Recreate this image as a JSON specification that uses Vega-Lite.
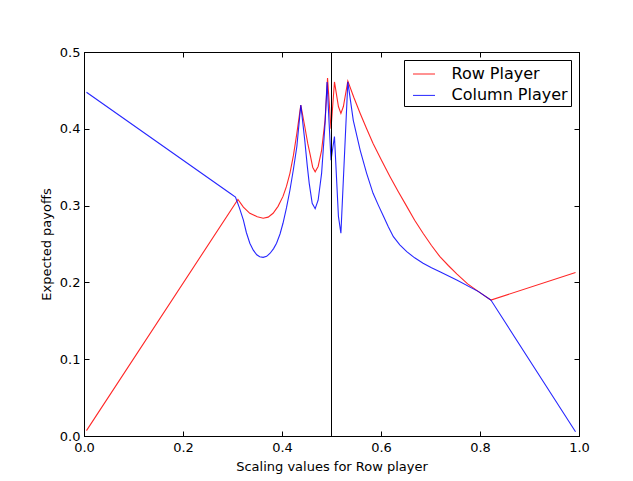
{
  "$schema": "https://vega.github.io/schema/vega-lite/v6.json",
  "width": 495,
  "height": 384,
  "autosize": {"type": "none"},
  "padding": {"left": 84, "top": 52, "right": 54, "bottom": 45},
  "background": "white",
  "config": {
    "font": "DejaVu Sans",
    "view": {"stroke": "black", "strokeWidth": 1},
    "axis": {
      "labelFont": "DejaVu Sans", "labelFontSize": 13, "labelColor": "black", "labelFlush": false,
      "titleFont": "DejaVu Sans", "titleFontSize": 13, "titleColor": "black", "titleFontWeight": "normal",
      "domainColor": "black", "tickColor": "black", "tickSize": -5, "grid": false
    },
    "legend": {
      "orient": "top-right", "offset": 8, "strokeColor": "black", "fillColor": "white",
      "padding": 2.5, "cornerRadius": 0, "symbolType": "stroke", "symbolSize": 484,
      "symbolStrokeWidth": 1, "symbolOffset": 6, "labelFontSize": 16, "labelFont": "DejaVu Sans",
      "labelColor": "black", "labelOffset": 16, "rowPadding": 1.4
    }
  },
  "datasets": {
    "curves": [
      {"series": "Row Player", "x": 0.005, "y": 0.007},
      {"series": "Row Player", "x": 0.311, "y": 0.308},
      {"series": "Row Player", "x": 0.322, "y": 0.298},
      {"series": "Row Player", "x": 0.335, "y": 0.290},
      {"series": "Row Player", "x": 0.350, "y": 0.2855},
      {"series": "Row Player", "x": 0.362, "y": 0.2835},
      {"series": "Row Player", "x": 0.372, "y": 0.285},
      {"series": "Row Player", "x": 0.382, "y": 0.290},
      {"series": "Row Player", "x": 0.392, "y": 0.299},
      {"series": "Row Player", "x": 0.402, "y": 0.312},
      {"series": "Row Player", "x": 0.409, "y": 0.325},
      {"series": "Row Player", "x": 0.416, "y": 0.342},
      {"series": "Row Player", "x": 0.423, "y": 0.365},
      {"series": "Row Player", "x": 0.430, "y": 0.394},
      {"series": "Row Player", "x": 0.438, "y": 0.431},
      {"series": "Row Player", "x": 0.446, "y": 0.403},
      {"series": "Row Player", "x": 0.452, "y": 0.381},
      {"series": "Row Player", "x": 0.457, "y": 0.366},
      {"series": "Row Player", "x": 0.462, "y": 0.350},
      {"series": "Row Player", "x": 0.467, "y": 0.344},
      {"series": "Row Player", "x": 0.473, "y": 0.351},
      {"series": "Row Player", "x": 0.480, "y": 0.372},
      {"series": "Row Player", "x": 0.487, "y": 0.411},
      {"series": "Row Player", "x": 0.492, "y": 0.466},
      {"series": "Row Player", "x": 0.499, "y": 0.400},
      {"series": "Row Player", "x": 0.506, "y": 0.461},
      {"series": "Row Player", "x": 0.514, "y": 0.429},
      {"series": "Row Player", "x": 0.519, "y": 0.420},
      {"series": "Row Player", "x": 0.524, "y": 0.429},
      {"series": "Row Player", "x": 0.533, "y": 0.462},
      {"series": "Row Player", "x": 0.545, "y": 0.441},
      {"series": "Row Player", "x": 0.558, "y": 0.420},
      {"series": "Row Player", "x": 0.571, "y": 0.400},
      {"series": "Row Player", "x": 0.584, "y": 0.381},
      {"series": "Row Player", "x": 0.601, "y": 0.359},
      {"series": "Row Player", "x": 0.618, "y": 0.338},
      {"series": "Row Player", "x": 0.635, "y": 0.318},
      {"series": "Row Player", "x": 0.652, "y": 0.299},
      {"series": "Row Player", "x": 0.668, "y": 0.281},
      {"series": "Row Player", "x": 0.685, "y": 0.264},
      {"series": "Row Player", "x": 0.702, "y": 0.248},
      {"series": "Row Player", "x": 0.719, "y": 0.2335},
      {"series": "Row Player", "x": 0.736, "y": 0.222},
      {"series": "Row Player", "x": 0.753, "y": 0.211},
      {"series": "Row Player", "x": 0.775, "y": 0.198},
      {"series": "Row Player", "x": 0.797, "y": 0.188},
      {"series": "Row Player", "x": 0.822, "y": 0.177},
      {"series": "Row Player", "x": 0.993, "y": 0.213},
      {"series": "Column Player", "x": 0.005, "y": 0.4475},
      {"series": "Column Player", "x": 0.295, "y": 0.316},
      {"series": "Column Player", "x": 0.306, "y": 0.311},
      {"series": "Column Player", "x": 0.314, "y": 0.297},
      {"series": "Column Player", "x": 0.322, "y": 0.281},
      {"series": "Column Player", "x": 0.328, "y": 0.265},
      {"series": "Column Player", "x": 0.335, "y": 0.251},
      {"series": "Column Player", "x": 0.342, "y": 0.242},
      {"series": "Column Player", "x": 0.349, "y": 0.236},
      {"series": "Column Player", "x": 0.355, "y": 0.2335},
      {"series": "Column Player", "x": 0.362, "y": 0.2326},
      {"series": "Column Player", "x": 0.369, "y": 0.234},
      {"series": "Column Player", "x": 0.376, "y": 0.238},
      {"series": "Column Player", "x": 0.383, "y": 0.244},
      {"series": "Column Player", "x": 0.389, "y": 0.251},
      {"series": "Column Player", "x": 0.396, "y": 0.263},
      {"series": "Column Player", "x": 0.402, "y": 0.277},
      {"series": "Column Player", "x": 0.409, "y": 0.297},
      {"series": "Column Player", "x": 0.416, "y": 0.320},
      {"series": "Column Player", "x": 0.423, "y": 0.347},
      {"series": "Column Player", "x": 0.430, "y": 0.377},
      {"series": "Column Player", "x": 0.438, "y": 0.431},
      {"series": "Column Player", "x": 0.446, "y": 0.385},
      {"series": "Column Player", "x": 0.451, "y": 0.352},
      {"series": "Column Player", "x": 0.455, "y": 0.329},
      {"series": "Column Player", "x": 0.461, "y": 0.303},
      {"series": "Column Player", "x": 0.467, "y": 0.296},
      {"series": "Column Player", "x": 0.473, "y": 0.307},
      {"series": "Column Player", "x": 0.480, "y": 0.342},
      {"series": "Column Player", "x": 0.487, "y": 0.407},
      {"series": "Column Player", "x": 0.491, "y": 0.461},
      {"series": "Column Player", "x": 0.499, "y": 0.359},
      {"series": "Column Player", "x": 0.506, "y": 0.390},
      {"series": "Column Player", "x": 0.514, "y": 0.286},
      {"series": "Column Player", "x": 0.519, "y": 0.264},
      {"series": "Column Player", "x": 0.533, "y": 0.461},
      {"series": "Column Player", "x": 0.544, "y": 0.411},
      {"series": "Column Player", "x": 0.558, "y": 0.372},
      {"series": "Column Player", "x": 0.571, "y": 0.342},
      {"series": "Column Player", "x": 0.584, "y": 0.316},
      {"series": "Column Player", "x": 0.595, "y": 0.300},
      {"series": "Column Player", "x": 0.605, "y": 0.286},
      {"series": "Column Player", "x": 0.615, "y": 0.272},
      {"series": "Column Player", "x": 0.625, "y": 0.2595},
      {"series": "Column Player", "x": 0.638, "y": 0.249},
      {"series": "Column Player", "x": 0.652, "y": 0.240},
      {"series": "Column Player", "x": 0.668, "y": 0.232},
      {"series": "Column Player", "x": 0.685, "y": 0.225},
      {"series": "Column Player", "x": 0.702, "y": 0.219},
      {"series": "Column Player", "x": 0.719, "y": 0.214},
      {"series": "Column Player", "x": 0.753, "y": 0.203},
      {"series": "Column Player", "x": 0.797, "y": 0.188},
      {"series": "Column Player", "x": 0.822, "y": 0.177},
      {"series": "Column Player", "x": 0.993, "y": 0.0056}
    ],
    "vline": [{"x": 0.5}]
  },
  "layer": [
    {
      "data": {"name": "curves"},
      "mark": {"type": "line", "strokeWidth": 1.1, "opacity": 0.85},
      "encoding": {
        "x": {"field": "x", "type": "quantitative", "scale": {"domain": [0, 1], "nice": false},
              "axis": {"orient": "bottom", "values": [0, 0.2, 0.4, 0.6, 0.8, 1.0], "format": ".1f",
                       "title": "Scaling values for Row player", "labelPadding": 10, "titlePadding": 6}},
        "y": {"field": "y", "type": "quantitative", "scale": {"domain": [0, 0.5], "nice": false},
              "axis": {"orient": "left", "values": [0, 0.1, 0.2, 0.3, 0.4, 0.5], "format": ".1f",
                       "title": "Expected payoffs", "labelPadding": 9, "titlePadding": 6}},
        "color": {"field": "series", "type": "nominal",
                  "scale": {"domain": ["Row Player", "Column Player"], "range": ["#ff0000", "#0000ff"]},
                  "legend": {"title": null}},
        "order": {"field": "x", "type": "quantitative"}
      }
    },
    {
      "data": {"name": "curves"},
      "mark": {"type": "point", "opacity": 0},
      "encoding": {
        "x": {"field": "x", "type": "quantitative",
              "axis": {"orient": "top", "values": [0, 0.2, 0.4, 0.6, 0.8, 1.0], "labels": false, "title": null}},
        "y": {"field": "y", "type": "quantitative",
              "axis": {"orient": "right", "values": [0, 0.1, 0.2, 0.3, 0.4, 0.5], "labels": false, "title": null}}
      }
    },
    {
      "data": {"name": "vline"},
      "mark": {"type": "rule", "color": "black", "strokeWidth": 1},
      "encoding": {"x": {"field": "x", "type": "quantitative", "axis": null}}
    }
  ],
  "resolve": {"axis": {"x": "independent", "y": "independent"}}
}
